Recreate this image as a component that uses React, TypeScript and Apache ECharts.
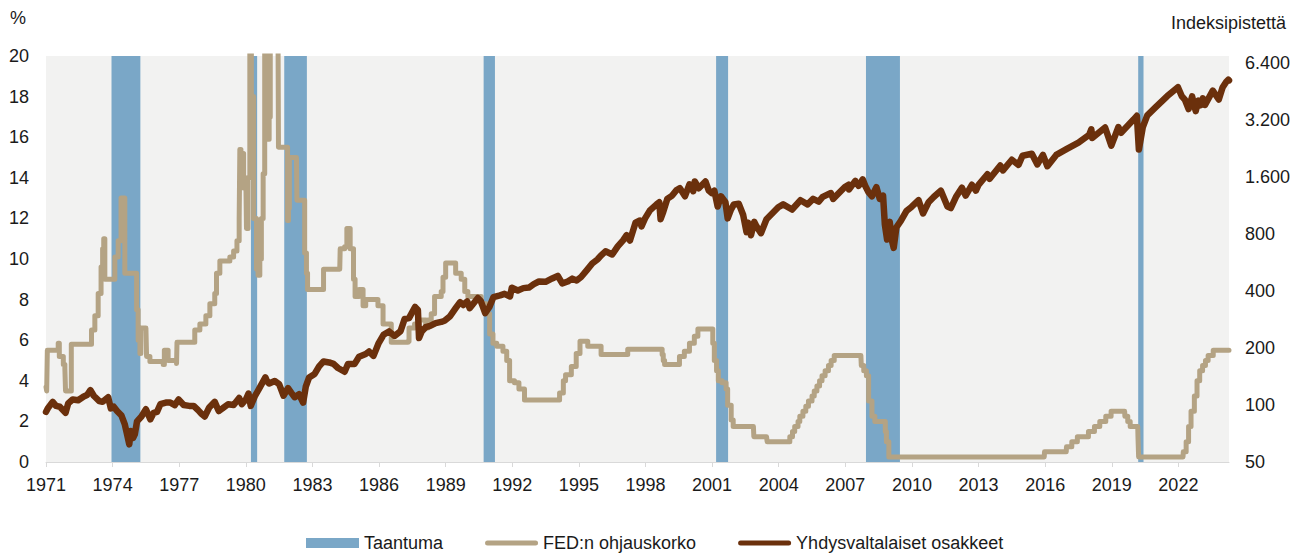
import React, { useEffect, useRef } from "react";
import * as echarts from "echarts";

// Recession periods (start year, end year)
const recessions: [number, number][] = [
  [1973.95, 1975.25],
  [1980.23, 1980.51],
  [1981.73, 1982.75],
  [1990.71, 1991.22],
  [2001.18, 2001.72],
  [2007.93, 2009.46],
  [2020.19, 2020.43],
];

// FED policy rate, % (decimal year, value) – value holds until next point
const fedRate: [number, number][] = [
  [1971.0, 3.7], [1971.03, 3.5], [1971.06, 5.5], [1971.5, 5.5], [1971.55, 5.85], [1971.6, 5.2],
  [1971.78, 4.8], [1971.85, 4.6], [1971.88, 3.5], [1972.1, 3.5], [1972.14, 5.8], [1972.98, 5.8],
  [1973.05, 6.5], [1973.2, 7.2], [1973.35, 8.3], [1973.48, 9.6], [1973.55, 10.5], [1973.6, 11.0],
  [1973.65, 9.0], [1974.05, 9.0], [1974.1, 10.1], [1974.25, 10.9], [1974.38, 13.0], [1974.48, 13.0],
  [1974.55, 9.3], [1975.0, 9.3], [1975.08, 7.5], [1975.15, 6.0], [1975.23, 5.35], [1975.27, 6.6],
  [1975.5, 6.6], [1975.53, 5.2], [1975.68, 4.95], [1976.28, 4.8], [1976.33, 5.5], [1976.45, 5.5],
  [1976.5, 5.0], [1976.88, 4.85], [1976.9, 5.9], [1977.55, 5.9], [1977.7, 6.5], [1977.93, 6.8],
  [1978.2, 7.2], [1978.38, 7.8], [1978.6, 8.3], [1978.68, 9.3], [1978.83, 9.9], [1979.28, 10.1],
  [1979.45, 10.4], [1979.6, 10.9], [1979.7, 12.0], [1979.73, 15.4], [1979.78, 14.0], [1979.85, 15.2],
  [1979.9, 13.5], [1980.0, 14.0], [1980.03, 11.5], [1980.1, 14.0], [1980.18, 21.0], [1980.25, 18.0],
  [1980.35, 12.0], [1980.48, 9.5], [1980.55, 9.2], [1980.63, 10.0], [1980.7, 12.0], [1980.78, 14.2],
  [1980.85, 21.0], [1980.95, 17.0], [1981.0, 15.9], [1981.05, 17.0], [1981.1, 21.0], [1981.45, 21.0],
  [1981.47, 15.5], [1981.83, 15.5], [1981.88, 11.9], [1981.92, 12.5], [1981.96, 15.0], [1982.28, 15.0],
  [1982.3, 12.9], [1982.58, 12.9], [1982.65, 10.3], [1982.73, 9.3], [1982.78, 8.5], [1983.45, 8.5],
  [1983.5, 9.5], [1984.23, 9.5], [1984.25, 10.5], [1984.45, 10.6], [1984.55, 11.5], [1984.62, 11.5],
  [1984.7, 10.5], [1984.85, 9.0], [1984.92, 8.15], [1985.1, 8.5], [1985.28, 7.7], [1985.4, 8.0],
  [1985.88, 8.0], [1985.95, 7.7], [1986.18, 6.8], [1986.3, 6.8], [1986.55, 5.9], [1987.3, 5.95],
  [1987.35, 6.6], [1987.6, 6.8], [1987.8, 7.0], [1988.1, 6.6], [1988.2, 7.0], [1988.35, 7.3],
  [1988.5, 8.15], [1988.8, 8.4], [1988.88, 9.1], [1989.0, 9.8], [1989.35, 9.8], [1989.45, 9.3],
  [1989.7, 9.0], [1989.86, 8.4], [1990.0, 8.15], [1990.5, 8.15], [1990.6, 7.8], [1990.83, 7.3],
  [1990.98, 6.3], [1991.13, 5.85], [1991.3, 5.7], [1991.58, 5.45], [1991.75, 5.0], [1991.88, 4.0],
  [1992.1, 3.9], [1992.3, 3.6], [1992.55, 3.05], [1994.0, 3.05], [1994.13, 3.4], [1994.3, 4.0],
  [1994.4, 4.3], [1994.66, 4.7], [1994.88, 5.35], [1995.05, 5.95], [1995.33, 5.95], [1995.4, 5.7],
  [1995.9, 5.7], [1996.0, 5.3], [1997.15, 5.3], [1997.2, 5.55], [1998.7, 5.55], [1998.75, 5.3],
  [1998.8, 5.0], [1998.86, 4.8], [1999.45, 4.8], [1999.53, 5.2], [1999.75, 5.45], [1999.98, 5.85],
  [2000.2, 6.2], [2000.36, 6.55], [2000.98, 6.55], [2001.03, 5.85], [2001.1, 5.0], [2001.2, 4.5],
  [2001.28, 4.0], [2001.45, 3.9], [2001.63, 3.6], [2001.7, 2.8], [2001.86, 2.07], [2001.95, 1.75],
  [2002.86, 1.75], [2002.88, 1.25], [2003.45, 1.25], [2003.48, 1.0], [2004.45, 1.0], [2004.5, 1.25],
  [2004.62, 1.5], [2004.72, 1.75], [2004.87, 2.0], [2004.95, 2.25], [2005.09, 2.5], [2005.22, 2.75],
  [2005.34, 3.0], [2005.5, 3.25], [2005.6, 3.5], [2005.72, 3.75], [2005.84, 4.0], [2005.95, 4.25],
  [2006.09, 4.5], [2006.24, 4.75], [2006.36, 5.0], [2006.5, 5.25], [2007.7, 5.25], [2007.72, 4.75],
  [2007.83, 4.5], [2007.95, 4.25], [2008.05, 3.0], [2008.2, 2.25], [2008.33, 2.0], [2008.75, 2.0],
  [2008.8, 1.5], [2008.85, 1.0], [2008.96, 0.25], [2015.96, 0.25], [2015.97, 0.5], [2016.95, 0.5],
  [2016.96, 0.75], [2017.2, 1.0], [2017.45, 1.25], [2017.95, 1.5], [2018.22, 1.75], [2018.46, 2.0],
  [2018.73, 2.25], [2018.97, 2.5], [2019.58, 2.5], [2019.59, 2.25], [2019.72, 2.0], [2019.83, 1.75],
  [2020.17, 1.75], [2020.18, 1.25], [2020.21, 0.25], [2022.21, 0.25], [2022.22, 0.5], [2022.35, 1.0],
  [2022.46, 1.75], [2022.57, 2.5], [2022.72, 3.25], [2022.84, 4.0], [2022.96, 4.5], [2023.09, 4.75],
  [2023.22, 5.0], [2023.34, 5.25], [2023.57, 5.5], [2024.28, 5.5],
];

// US equities, index points (decimal year, value)
const stocks: [number, number][] = [
  [1971.0, 92], [1971.08, 96], [1971.3, 104], [1971.45, 99], [1971.62, 98], [1971.88, 91],
  [1972.0, 102], [1972.2, 107], [1972.45, 106], [1972.7, 111], [1972.85, 113], [1973.0, 120],
  [1973.15, 112], [1973.4, 105], [1973.55, 104], [1973.8, 110], [1973.92, 96], [1974.05, 98],
  [1974.2, 93], [1974.4, 88], [1974.55, 79], [1974.65, 70], [1974.75, 62], [1974.82, 73],
  [1974.92, 67], [1975.0, 70], [1975.1, 82], [1975.3, 87], [1975.5, 95], [1975.7, 84],
  [1975.85, 91], [1976.0, 92], [1976.15, 101], [1976.4, 103], [1976.6, 103], [1976.8, 100],
  [1976.97, 107], [1977.2, 100], [1977.45, 99], [1977.65, 99], [1977.85, 94], [1978.0, 90],
  [1978.15, 87], [1978.35, 97], [1978.6, 104], [1978.78, 93], [1978.95, 96], [1979.2, 101],
  [1979.45, 100], [1979.7, 109], [1979.82, 101], [1980.0, 107], [1980.12, 115], [1980.22, 99],
  [1980.4, 111], [1980.6, 122], [1980.88, 140], [1980.95, 134], [1981.05, 130], [1981.3, 134],
  [1981.5, 129], [1981.7, 112], [1981.9, 123], [1982.05, 116], [1982.2, 110], [1982.4, 114],
  [1982.58, 103], [1982.7, 125], [1982.85, 140], [1983.1, 146], [1983.3, 160], [1983.5, 170],
  [1983.75, 168], [1983.95, 165], [1984.15, 157], [1984.45, 150], [1984.6, 165], [1984.9, 165],
  [1985.1, 180], [1985.4, 186], [1985.55, 192], [1985.75, 182], [1985.97, 211], [1986.2, 235],
  [1986.45, 245], [1986.7, 232], [1986.97, 246], [1987.15, 285], [1987.35, 288], [1987.62, 330],
  [1987.75, 318], [1987.8, 226], [1987.92, 245], [1988.1, 258], [1988.3, 262], [1988.55, 271],
  [1988.8, 275], [1988.95, 279], [1989.2, 295], [1989.45, 325], [1989.65, 350], [1989.8, 338],
  [1989.97, 353], [1990.08, 325], [1990.45, 368], [1990.58, 355], [1990.78, 306], [1990.97, 330],
  [1991.15, 372], [1991.45, 380], [1991.65, 387], [1991.9, 375], [1991.98, 417], [1992.25, 403],
  [1992.5, 415], [1992.75, 418], [1992.97, 436], [1993.2, 450], [1993.5, 448], [1993.8, 467],
  [1994.05, 482], [1994.25, 440], [1994.5, 450], [1994.7, 466], [1994.9, 455], [1995.1, 475],
  [1995.35, 515], [1995.6, 560], [1995.85, 590], [1995.98, 615], [1996.2, 650], [1996.5, 625],
  [1996.75, 690], [1996.98, 740], [1997.15, 790], [1997.3, 740], [1997.55, 920], [1997.75, 945],
  [1997.82, 880], [1997.98, 970], [1998.2, 1070], [1998.5, 1150], [1998.62, 1180], [1998.68, 960],
  [1998.8, 1050], [1998.98, 1229], [1999.2, 1280], [1999.4, 1370], [1999.55, 1400], [1999.78, 1270],
  [1999.98, 1469], [2000.15, 1350], [2000.22, 1520], [2000.4, 1400], [2000.7, 1520], [2000.85, 1360],
  [2000.98, 1320], [2001.1, 1360], [2001.25, 1120], [2001.4, 1270], [2001.6, 1180], [2001.7, 970],
  [2001.85, 1080], [2001.98, 1150], [2002.2, 1160], [2002.4, 1010], [2002.55, 820], [2002.62, 920],
  [2002.75, 790], [2002.9, 930], [2003.0, 880], [2003.2, 810], [2003.45, 960], [2003.98, 1110],
  [2004.2, 1150], [2004.6, 1080], [2004.98, 1210], [2005.3, 1150], [2005.55, 1230], [2005.8, 1190],
  [2005.98, 1260], [2006.35, 1320], [2006.45, 1230], [2006.98, 1420], [2007.15, 1460], [2007.17, 1380],
  [2007.45, 1530], [2007.6, 1440], [2007.78, 1560], [2007.9, 1440], [2008.05, 1330], [2008.2, 1270],
  [2008.4, 1420], [2008.55, 1230], [2008.7, 1280], [2008.78, 900], [2008.88, 750], [2008.93, 900],
  [2009.0, 930], [2009.1, 740], [2009.18, 677], [2009.3, 870], [2009.5, 940], [2009.75, 1060],
  [2009.98, 1115], [2010.3, 1210], [2010.5, 1030], [2010.75, 1180], [2010.98, 1258], [2011.3, 1360],
  [2011.6, 1120], [2011.75, 1100], [2011.98, 1257], [2012.25, 1410], [2012.42, 1280], [2012.7, 1460],
  [2012.88, 1360], [2013.0, 1460], [2013.4, 1660], [2013.5, 1570], [2013.98, 1848], [2014.1, 1740],
  [2014.5, 1980], [2014.8, 1860], [2014.98, 2080], [2015.4, 2130], [2015.65, 1870], [2015.9, 2100],
  [2016.1, 1830], [2016.5, 2100], [2016.98, 2260], [2017.5, 2440], [2017.98, 2680], [2018.08, 2870],
  [2018.12, 2580], [2018.7, 2930], [2018.98, 2350], [2019.3, 2950], [2019.42, 2750], [2019.98, 3230],
  [2020.13, 3380], [2020.22, 2240], [2020.4, 2950], [2020.6, 3400], [2020.98, 3756], [2021.5, 4300],
  [2021.98, 4790], [2022.15, 4300], [2022.3, 4100], [2022.46, 3670], [2022.62, 4280], [2022.78, 3580],
  [2022.9, 4070], [2022.99, 3840], [2023.1, 4180], [2023.2, 3860], [2023.55, 4590], [2023.82, 4120],
  [2023.99, 4770], [2024.15, 5100], [2024.25, 5250], [2024.28, 5200],
];

const xStart = 1971;
const xEnd = 2024.28;
const rightBase = 50; // lowest right-axis tick
const rightTop = 7000; // right-axis upper bound

const FONT = "'Liberation Sans', Arial, sans-serif";
const TEXT = "#1a1a1a";
const BLUE = "#7aa7c7";
const TAN = "#b4a384";
const BROWN = "#6b300c";

const fmtThousands = (n: number) =>
  String(Math.round(n)).replace(/\B(?=(\d{3})+(?!\d))/g, ".");

const lineIcon =
  "path://M2.5,0 L50.5,0 A2.5,2.5 0 0 1 50.5,5 L2.5,5 A2.5,2.5 0 0 1 2.5,0 Z";

export default function App() {
  const ref = useRef<HTMLDivElement>(null);

  useEffect(() => {
    document.body.style.margin = "0";
    if (!ref.current) return;
    const chart = echarts.init(ref.current, undefined, { renderer: "svg" });
    const logMax = Math.log2(rightTop / rightBase);

    chart.setOption({
      animation: false,
      backgroundColor: "#ffffff",
      textStyle: { fontFamily: FONT },
      grid: {
        left: 46,
        right: 77,
        top: 56,
        bottom: 95,
        show: true,
        backgroundColor: "#f2f2f1",
        borderWidth: 0,
      },
      graphic: [
        {
          type: "text",
          left: 10,
          top: 9,
          style: { text: "%", fontSize: 18, fill: TEXT, fontFamily: FONT },
        },
        {
          type: "text",
          left: 1171,
          top: 14,
          style: { text: "Indeksipistettä", fontSize: 18, fill: TEXT, fontFamily: FONT },
        },
      ],
      legend: {
        left: 301,
        top: 529,
        itemWidth: 53,
        itemHeight: 10,
        itemGap: 42,
        textStyle: { fontSize: 18, color: TEXT, fontFamily: FONT },
        data: [
          { name: "Taantuma", icon: "rect" },
          { name: "FED:n ohjauskorko", icon: lineIcon },
          { name: "Yhdysvaltalaiset osakkeet", icon: lineIcon },
        ],
      },
      xAxis: {
        type: "value",
        min: xStart,
        max: xEnd,
        interval: 3,
        splitLine: { show: false },
        axisLine: { show: true, lineStyle: { color: "#d9d9d9", width: 1 } },
        axisTick: { show: true, length: 5, lineStyle: { color: "#d9d9d9" } },
        axisLabel: {
          fontSize: 18,
          color: TEXT,
          margin: 14,
          showMaxLabel: false,
          formatter: (v: number) =>
            Math.abs(v - Math.round(v)) < 1e-6 ? String(Math.round(v)) : "",
        },
      },
      yAxis: [
        {
          type: "value",
          min: 0,
          max: 20,
          interval: 2,
          position: "left",
          splitLine: { show: false },
          axisLine: { show: false },
          axisTick: { show: false },
          axisLabel: { fontSize: 18, color: TEXT, margin: 17 },
        },
        {
          type: "value",
          min: 0,
          max: logMax,
          interval: 1,
          position: "right",
          splitLine: { show: false },
          axisLine: { show: false },
          axisTick: { show: false },
          axisLabel: {
            fontSize: 18,
            color: TEXT,
            margin: 16,
            showMaxLabel: false,
            formatter: (v: number) => {
              const r = Math.round(v);
              if (Math.abs(v - r) > 1e-6) return "";
              return fmtThousands(rightBase * Math.pow(2, r));
            },
          },
        },
      ],
      series: [
        {
          name: "Taantuma",
          type: "line",
          yAxisIndex: 0,
          data: [],
          color: BLUE,
          itemStyle: { color: BLUE },
          markArea: {
            silent: true,
            itemStyle: { color: BLUE, opacity: 1 },
            data: recessions.map(([a, b]) => [{ xAxis: a }, { xAxis: b }]),
          },
        },
        {
          name: "FED:n ohjauskorko",
          type: "line",
          yAxisIndex: 0,
          step: "end",
          symbol: "none",
          color: TAN,
          itemStyle: { color: TAN },
          lineStyle: { width: 5, color: TAN, join: "round", cap: "round" },
          data: fedRate,
        },
        {
          name: "Yhdysvaltalaiset osakkeet",
          type: "line",
          yAxisIndex: 1,
          symbol: "none",
          color: BROWN,
          itemStyle: { color: BROWN },
          lineStyle: { width: 6.5, color: BROWN, join: "round", cap: "round" },
          data: stocks.map(([t, v]) => [t, Math.log2(v / rightBase)]),
        },
      ],
    });

    return () => chart.dispose();
  }, []);

  return <div ref={ref} style={{ width: 1306, height: 557 }} />;
}
